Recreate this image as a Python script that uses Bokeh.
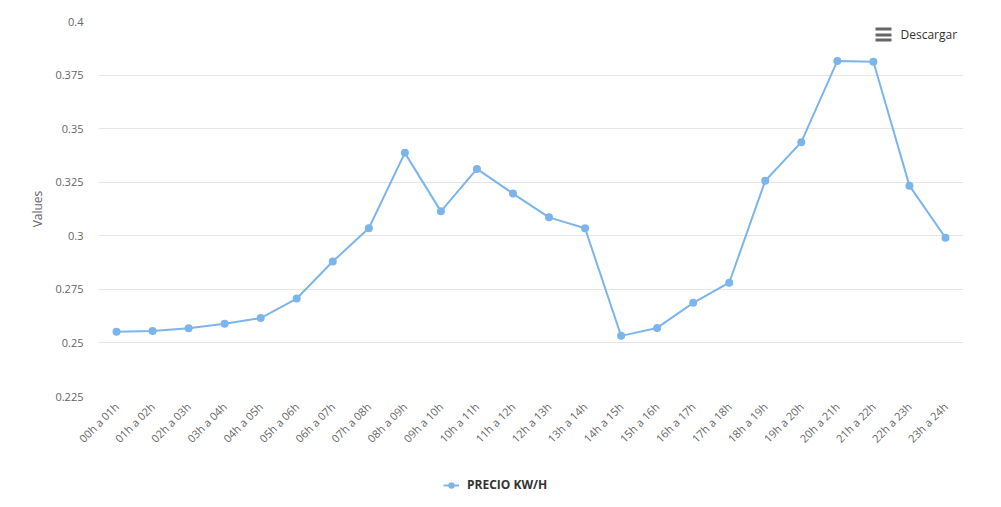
from bokeh.plotting import figure
from bokeh.layouts import column
from bokeh.models import (FactorRange, Range1d, FixedTicker, NumeralTickFormatter,
                          Legend, LegendItem, Label, BoxAnnotation)
from bokeh.embed import file_html
from bokeh.resources import INLINE
from math import pi

hours = ["00h a 01h", "01h a 02h", "02h a 03h", "03h a 04h", "04h a 05h", "05h a 06h",
         "06h a 07h", "07h a 08h", "08h a 09h", "09h a 10h", "10h a 11h", "11h a 12h",
         "12h a 13h", "13h a 14h", "14h a 15h", "15h a 16h", "16h a 17h", "17h a 18h",
         "18h a 19h", "19h a 20h", "20h a 21h", "21h a 22h", "22h a 23h", "23h a 24h"]
precio = [0.2552, 0.2556, 0.2569, 0.2589, 0.2616, 0.2707,
          0.2880, 0.3035, 0.3387, 0.3114, 0.3312, 0.3197,
          0.3086, 0.3035, 0.2533, 0.2570, 0.2687, 0.2781,
          0.3257, 0.3437, 0.3816, 0.3812, 0.3234, 0.2991]
y_ticks = [0.225, 0.25, 0.275, 0.3, 0.325, 0.35, 0.375, 0.4]
series_name = "PRECIO KW/H"

FONT = "Open Sans"
COLOR = "#7cb5ec"

p = figure(width=1001, height=460, output_backend="svg", toolbar_location=None,
           x_range=FactorRange(factors=hours, range_padding=0),
           y_range=Range1d(0.225, 0.4),
           min_border_left=98, min_border_right=38, min_border_top=21,
           min_border_bottom=64, outline_line_color=None,
           background_fill_color="white", border_fill_color="white")

line = p.line(hours, precio, line_color=COLOR, line_width=2)
pts = p.scatter(hours, precio, size=8, fill_color=COLOR, line_color=None)

# axes
p.xgrid.grid_line_color = None
p.ygrid.grid_line_color = "#e6e6e6"
p.ygrid.ticker = FixedTicker(ticks=y_ticks)

p.yaxis.ticker = FixedTicker(ticks=y_ticks)
p.yaxis.formatter = NumeralTickFormatter(format="0.[000]")
p.yaxis.axis_line_color = None
p.yaxis.major_tick_line_color = None
p.yaxis.minor_tick_line_color = None
p.yaxis.major_tick_out = 0
p.yaxis.major_label_standoff = 15
p.yaxis.major_label_text_font = FONT
p.yaxis.major_label_text_font_size = "11px"
p.yaxis.major_label_text_color = "#666666"
p.yaxis.axis_label = "Values"
p.yaxis.axis_label_text_font = FONT
p.yaxis.axis_label_text_font_size = "12px"
p.yaxis.axis_label_text_font_style = "normal"
p.yaxis.axis_label_text_color = "#666666"
p.yaxis.axis_label_standoff = 6

p.xaxis.axis_line_color = None
p.xaxis.major_tick_line_color = None
p.xaxis.minor_tick_line_color = None
p.xaxis.major_tick_out = 0
p.xaxis.major_label_orientation = pi / 4
p.xaxis.major_label_standoff = 8
p.xaxis.major_label_text_font = FONT
p.xaxis.major_label_text_font_size = "11px"
p.xaxis.major_label_text_color = "#666666"

# export button (menu icon + text)
for top in (369, 363, 358):
    p.add_layout(BoxAnnotation(left=777, right=793, top=top, bottom=top - 3,
                               left_units="screen", right_units="screen",
                               top_units="screen", bottom_units="screen",
                               fill_color="#666666", fill_alpha=1, line_color=None))
p.add_layout(Label(x=802, y=362, x_units="screen", y_units="screen", text="Descargar",
                   text_font=FONT, text_font_size="12px", text_color="#333333",
                   text_baseline="middle", text_align="left"))

# legend strip below the chart (series kept out of view; only the legend shows)
p2 = figure(width=1001, height=47, output_backend="svg", toolbar_location=None,
            x_range=FactorRange(factors=hours, range_padding=0),
            y_range=Range1d(10, 11),
            x_axis_location=None, y_axis_location=None, outline_line_color=None,
            min_border_left=98, min_border_right=38, min_border_top=0, min_border_bottom=0,
            background_fill_color="white", border_fill_color="white")
p2.grid.grid_line_color = None
l2 = p2.line(hours, precio, line_color=COLOR, line_width=2)
s2 = p2.scatter(hours, precio, size=8, fill_color=COLOR, line_color=None)
legend = Legend(items=[LegendItem(label=series_name, renderers=[l2, s2])],
                location=(345, 14), orientation="horizontal",
                padding=0, margin=0, spacing=0, glyph_width=16, glyph_height=16,
                label_standoff=8, border_line_color=None, background_fill_alpha=0,
                label_text_font=FONT, label_text_font_size="12px",
                label_text_font_style="bold", label_text_color="#333333")
p2.add_layout(legend, "center")

open("out.html", "w").write(file_html(column(p, p2, spacing=0), INLINE))
